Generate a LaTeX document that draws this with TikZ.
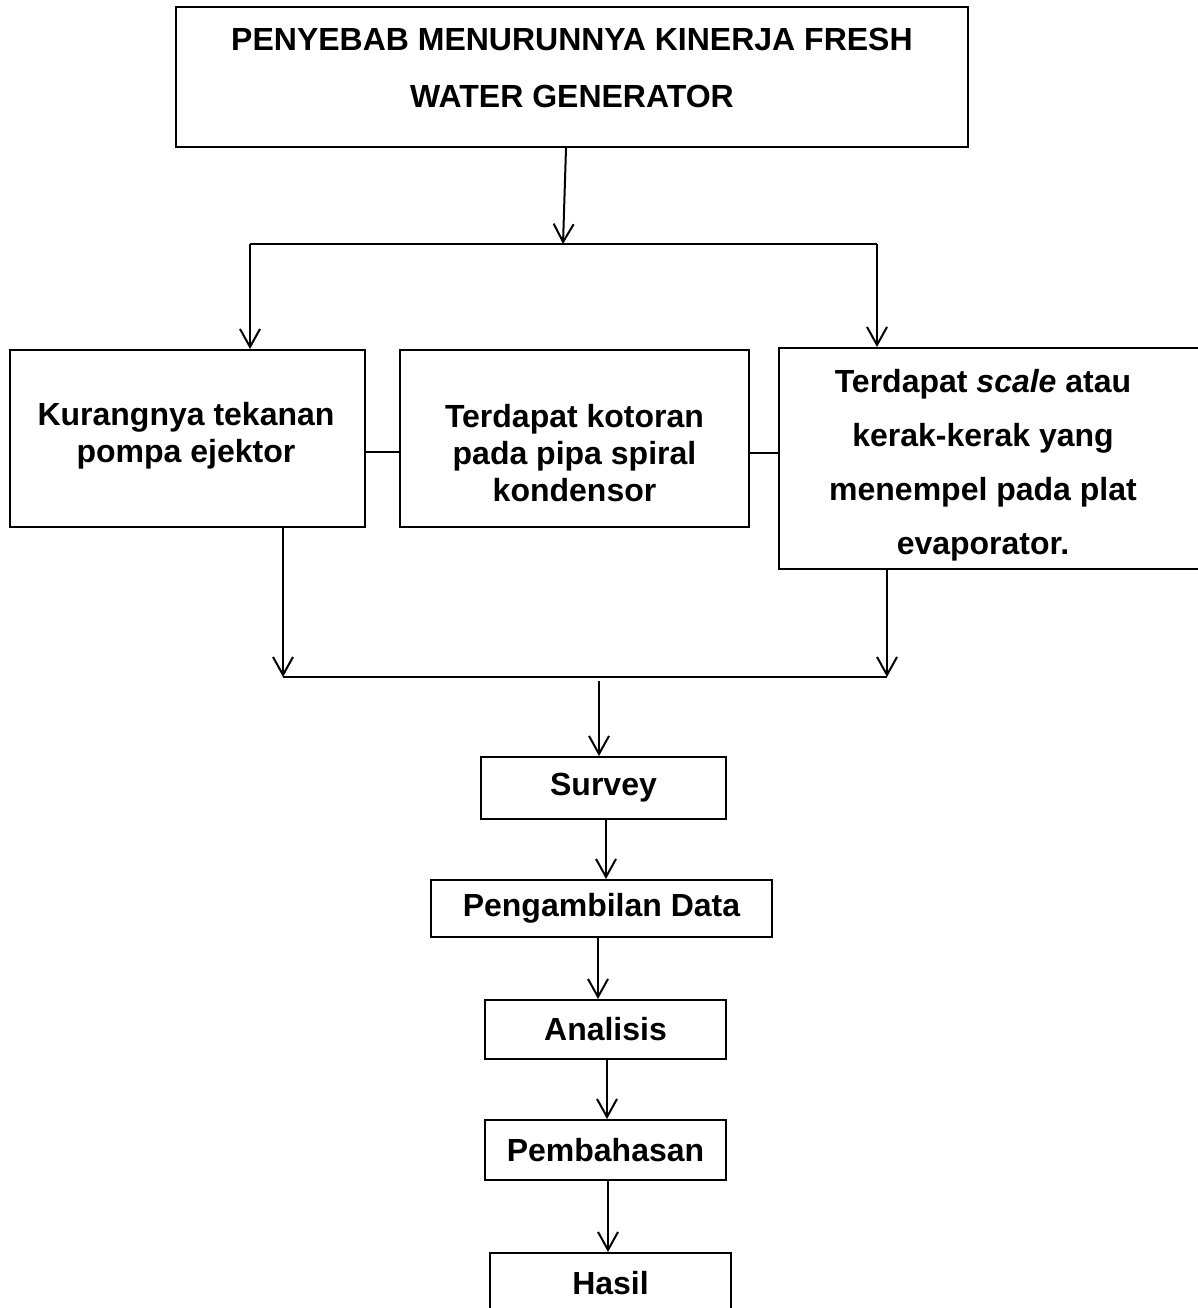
\documentclass[tikz,border=0pt]{standalone}
\usepackage{fontspec}
\setmainfont{Liberation Sans}
\usetikzlibrary{arrows.meta,calc}
\begin{document}
\begin{tikzpicture}[x=1pt,y=-1pt,line width=2pt,
  box/.style={draw,line width=2pt,inner sep=0pt,align=center,font=\fontsize{32}{37}\selectfont\bfseries},
  txt/.style={inner sep=0pt,align=center},
  arr/.style={-{Straight Barb[length=18pt,width=20pt,line width=2pt]}}]
\useasboundingbox (0,0) rectangle (1198,1308);
% top box
\node[box,minimum width=792pt,minimum height=140pt] (top) at (572,77) {};
\node[txt,font=\fontsize{32}{57}\selectfont\bfseries] (toptxt) at (572,68) {PENYEBAB MENURUNNYA KINERJA FRESH\\WATER GENERATOR};
% cause boxes
\node[box,minimum width=355pt,minimum height=177pt] (b1) at (187.5,438.5) {};
\node[txt,font=\fontsize{32}{37}\selectfont\bfseries] (b1txt) at (186,436) {Kurangnya tekanan\\pompa ejektor};
\node[box,minimum width=349pt,minimum height=177pt] (b2) at (574.5,438.5) {};
\node[txt,font=\fontsize{32}{37}\selectfont\bfseries] (b2txt) at (574.5,453) {Terdapat kotoran\\pada pipa spiral\\kondensor};
\node[box,minimum width=420pt,minimum height=221pt] (b3) at (989,458.5) {};
\node[txt,font=\fontsize{32}{54}\selectfont\bfseries] (b3txt) at (983,465) {Terdapat \textit{scale} atau\\kerak-kerak yang\\menempel pada plat\\evaporator.};
% steps
\node[box,minimum width=245pt,minimum height=62pt] (sv) at (603.5,788) {Survey};
\node[box,minimum width=341pt,minimum height=57pt] (pd) at (601.5,908.5) {Pengambilan Data};
\node[box,minimum width=241pt,minimum height=59pt] (an) at (605.5,1029.5) {Analisis};
\node[box,minimum width=241pt,minimum height=60pt] (pb) at (605.5,1150) {Pembahasan};
\node[box,minimum width=241pt,minimum height=60pt] (hs) at (610.5,1283) {Hasil};
% junctions
\coordinate (jm) at (563,244);
\coordinate (jl) at (250,244);
\coordinate (jr) at (877,244);
\coordinate (bl) at (283,677);
\coordinate (br) at (887,677);
\coordinate (bm) at (599,681);
% connectors
\draw[arr] ($(top.south)+(-6,0)$) -- (jm);
\draw (jl) -- (jr);
\draw[arr] (jl) -- (jl |- b1.north);
\draw[arr] (jr) -- (jr |- b3.north);
\draw (b1.east |- 0,452) -- (b2.west |- 0,452);
\draw (b2.east |- 0,453) -- (b3.west |- 0,453);
\draw[arr] (b1.south -| bl) -- (bl);
\draw[arr] (b3.south -| br) -- (br);
\draw (bl) -- (br);
\draw[arr] (bm) -- (bm |- sv.north);
\draw[arr] ([xshift=2.5pt]sv.south) -- ([xshift=2.5pt]sv.south |- pd.north);
\draw[arr] ([xshift=-3.5pt]pd.south) -- ([xshift=-3.5pt]pd.south |- an.north);
\draw[arr] ([xshift=1.5pt]an.south) -- ([xshift=1.5pt]an.south |- pb.north);
\draw[arr] ([xshift=2.5pt]pb.south) -- ([xshift=2.5pt]pb.south |- hs.north);
\end{tikzpicture}
\end{document}
